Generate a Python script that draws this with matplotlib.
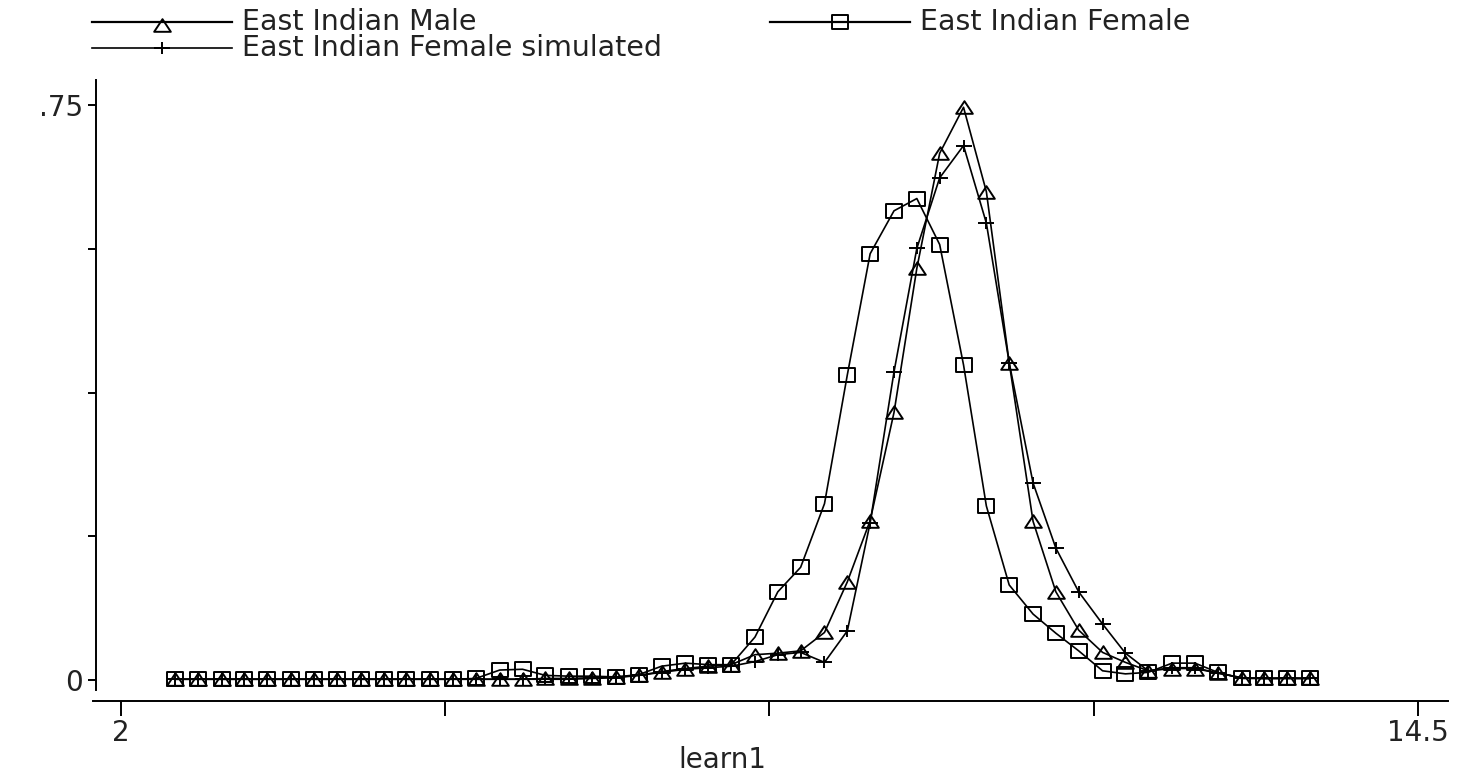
import numpy as np
import matplotlib
matplotlib.use("Agg")
import matplotlib.pyplot as plt
from matplotlib.path import Path
from matplotlib.lines import Line2D

# ---------------- data ----------------
learn1 = [2.52, 2.74, 2.97, 3.19, 3.41, 3.64, 3.86, 4.08, 4.31, 4.53,
          4.75, 4.98, 5.20, 5.42, 5.65, 5.87, 6.09, 6.32, 6.54, 6.77,
          6.99, 7.21, 7.44, 7.66, 7.88, 8.11, 8.33, 8.55, 8.78, 9.00,
          9.22, 9.45, 9.67, 9.89, 10.12, 10.34, 10.56, 10.79, 11.01, 11.23,
          11.46, 11.68, 11.90, 12.13, 12.35, 12.57, 12.80, 13.02, 13.24, 13.46]

male = [0.001, 0.001, 0.001, 0.001, 0.001, 0.001, 0.001, 0.001, 0.001, 0.001,
        0.001, 0.001, 0.001, 0.001, 0.001, 0.001, 0.002, 0.002, 0.003, 0.004,
        0.006, 0.011, 0.015, 0.018, 0.020, 0.033, 0.035, 0.038, 0.062, 0.128,
        0.208, 0.349, 0.537, 0.687, 0.747, 0.637, 0.414, 0.207, 0.115, 0.065,
        0.036, 0.023, 0.012, 0.015, 0.015, 0.009, 0.003, 0.002, 0.003, 0.002]

female = [0.001, 0.001, 0.001, 0.001, 0.001, 0.001, 0.001, 0.001, 0.001, 0.001,
          0.001, 0.001, 0.001, 0.002, 0.013, 0.014, 0.006, 0.005, 0.005, 0.004,
          0.007, 0.018, 0.022, 0.020, 0.020, 0.056, 0.115, 0.147, 0.230, 0.398,
          0.556, 0.612, 0.628, 0.568, 0.411, 0.227, 0.124, 0.086, 0.061, 0.038,
          0.012, 0.008, 0.010, 0.022, 0.022, 0.010, 0.002, 0.002, 0.002, 0.002]

simulated = [0.001, 0.001, 0.001, 0.001, 0.001, 0.001, 0.001, 0.001, 0.001, 0.001,
             0.001, 0.001, 0.001, 0.001, 0.001, 0.001, 0.001, 0.001, 0.002, 0.003,
             0.006, 0.010, 0.014, 0.016, 0.018, 0.024, 0.033, 0.036, 0.023, 0.064,
             0.205, 0.402, 0.563, 0.655, 0.697, 0.596, 0.414, 0.257, 0.172, 0.115,
             0.073, 0.035, 0.012, 0.016, 0.016, 0.009, 0.003, 0.002, 0.002, 0.002]

series_labels = ["East Indian Male", "East Indian Female", "East Indian Female simulated"]
xticks = [2, 5.125, 8.25, 11.375, 14.5]
xticklabels = ["2", "", "", "", "14.5"]
yticks = [0, 0.1875, 0.375, 0.5625, 0.75]
yticklabels = ["0", "", "", "", ".75"]
xlabel = "learn1"

# ---------------- style ----------------
plt.rcParams["font.family"] = ["DejaVu Sans"]
W, H = 1468, 779
fig = plt.figure(figsize=(W / 100, H / 100), dpi=100)

# wide (horizontally stretched) markers
sq = Path([(-0.62, -0.5), (0.62, -0.5), (0.62, 0.5), (-0.62, 0.5), (-0.62, -0.5)],
          [Path.MOVETO, Path.LINETO, Path.LINETO, Path.LINETO, Path.CLOSEPOLY])
tri = Path([(-0.66, -0.5), (0.66, -0.5), (0.0, 0.5), (-0.66, -0.5)],
           [Path.MOVETO, Path.LINETO, Path.LINETO, Path.CLOSEPOLY])
plus = Path([(-0.6, 0.0), (0.6, 0.0), (0.0, -0.45), (0.0, 0.45)],
            [Path.MOVETO, Path.LINETO, Path.MOVETO, Path.LINETO])

ax_l, ax_r, ax_t, ax_b = 93, 1448, 80, 701
ax = fig.add_axes([ax_l / W, (H - ax_b) / H, (ax_r - ax_l) / W, (ax_b - ax_t) / H])
px_x = (1418 - 121) / 12.5
px_y = (680 - 105) / 0.75
ax.set_xlim(2 - (121 - ax_l) / px_x, 14.5 + (ax_r - 1418) / px_x)
ax.set_ylim(0 - (ax_b - 680) / px_y, 0.75 + (105 - ax_t) / px_y)

lw = 1.2
ms = 12
mew = 1.4
ax.plot(learn1, simulated, color="black", lw=lw, marker=plus, ms=11,
        mec="black", mew=mew, mfc="none")
ax.plot(learn1, female, color="black", lw=lw, marker=sq, ms=ms,
        mec="black", mew=mew, mfc="none")
ax.plot(learn1, male, color="black", lw=lw, marker=tri, ms=ms,
        mec="black", mew=mew, mfc="none")

for s in ["top", "right"]:
    ax.spines[s].set_visible(False)
for s in ["left", "bottom"]:
    ax.spines[s].set_linewidth(1.4)
ax.spines["left"].set_bounds(0 - (690 - 680) / px_y, 0.75 + (105 - ax_t) / px_y)
ax.spines["left"].set_position(("outward", -2))

fs = 20
ax.set_xticks(xticks)
ax.set_xticklabels(xticklabels)
ax.set_yticks(yticks)
ax.set_yticklabels(yticklabels)
ax.tick_params(axis="x", length=11, width=1.4, pad=2, labelsize=fs, colors="black")
ax.tick_params(axis="y", length=6, width=1.4, pad=3, labelsize=fs, colors="black")
for t in ax.get_xticklabels() + ax.get_yticklabels():
    t.set_color("#222222")

fig.text(722 / W, 1 - 760 / H, xlabel, ha="center", va="center", fontsize=fs, color="#222222")

# ---------------- legend ----------------
lg = fig.add_axes([0, 0, 1, 1])
lg.set_xlim(0, W)
lg.set_ylim(H, 0)
lg.axis("off")
lg.patch.set_alpha(0)
entries = [(92, 232, 22, tri, series_labels[0], 1.6),
           (770, 910, 22, sq, series_labels[1], 1.6),
           (92, 232, 48, plus, series_labels[2], 1.2)]
for x0, x1, y, mk, lab, llw in entries:
    lg.add_line(Line2D([x0, x1], [y, y], color="black", lw=llw))
    lg.add_line(Line2D([(x0 + x1) / 2], [y + (3 if mk is tri else 0)], marker=mk,
                       ms=(11 if mk is plus else ms), mec="black", mew=mew, mfc="none",
                       ls="none"))
    lg.text(x1 + 10, y, lab, ha="left", va="center", fontsize=20.5, color="#222222")

fig.savefig("out.png", dpi=100)
